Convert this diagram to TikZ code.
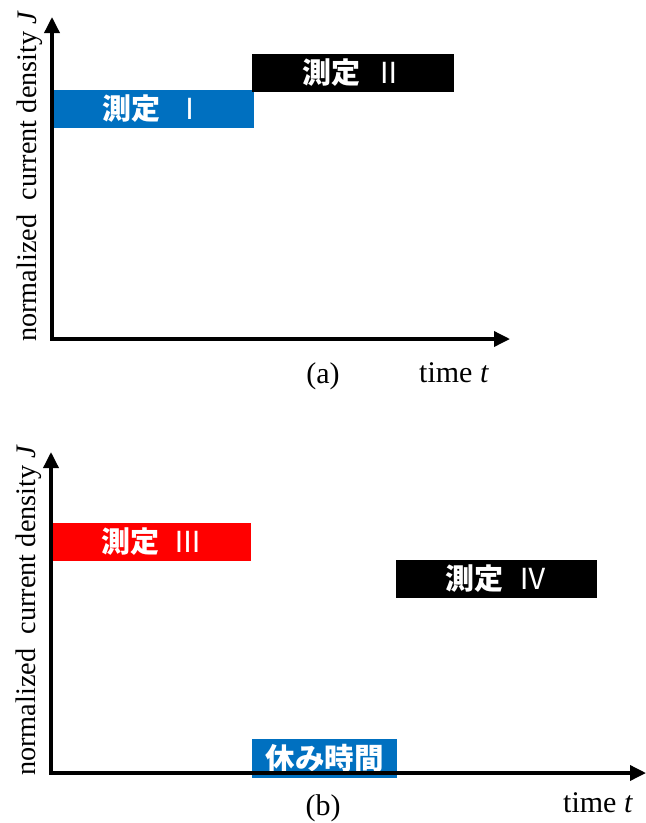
\documentclass[tikz,border=0pt]{standalone}
\usepackage{fontspec}
\setmainfont{Liberation Serif}
\newfontfamily\jp{Noto Sans CJK JP}
\usetikzlibrary{arrows.meta}
\definecolor{mblue}{HTML}{0070C0}
\definecolor{mred}{HTML}{FF0000}
\newcommand{\rn}[1]{\hspace{0.5em}{\mdseries #1}}
\begin{document}
\begin{tikzpicture}[x=1pt,y=-1pt,
  axis/.style={line width=3.5pt,-{Triangle[length=16pt,width=15pt]}},
  bar/.style={inner sep=0pt,outer sep=0pt,minimum height=38pt,text=white,font=\jp\bfseries\fontsize{29}{30}\selectfont},
  lab/.style={inner sep=0pt,font=\fontsize{30}{30}\selectfont},
  ylab/.style={inner sep=0pt,font=\fontsize{28.3}{30}\selectfont,rotate=90,anchor=base west}]
\useasboundingbox (0,0) rectangle (646,823);
% panel (a)
\node[bar,fill=mblue,minimum width=201pt,anchor=north west] (m1) at (53,90) {測定\rn{Ⅰ}};
\node[bar,fill=black,minimum width=202pt,anchor=north west] (m2) at (252,54) {測定\rn{Ⅱ}};
\coordinate (oa) at (52,339);
\coordinate (ya) at (52,17);
\coordinate (xa) at (510,339);
\draw[axis] ([yshift=1.75pt]oa) -- (ya);
\draw[axis] ([xshift=-1.75pt]oa) -- (xa);
\node[ylab] (ja) at (36,342) {normalized~ current density \textit{J}};
\node[lab,anchor=base] (ca) at (323,383) {(a)};
\node[lab,anchor=base west] (ta) at (419,382) {time~\textit{t}};
% panel (b)
\node[bar,fill=mred,minimum width=198pt,anchor=north west] (m3) at (53,523) {測定\rn{Ⅲ}};
\node[bar,fill=black,minimum width=201pt,anchor=north west] (m4) at (396,560) {測定\rn{Ⅳ}};
\node[bar,fill=mblue,minimum width=145pt,minimum height=39pt,anchor=north west,font=\jp\bfseries\fontsize{29.5}{30}\selectfont] (rest) at (252,739) {休み時間};
\coordinate (ob) at (51,773);
\coordinate (yb) at (51,452);
\coordinate (xb) at (646,773);
\draw[axis] ([yshift=1.75pt]ob) -- (yb);
\draw[axis] ([xshift=-1.75pt]ob) -- (xb);
\node[ylab] (jb) at (35,776) {normalized~ current density \textit{J}};
\node[lab,anchor=base] (cb) at (323,815) {(b)};
\node[lab,anchor=base west] (tb) at (563,812) {time~\textit{t}};
\end{tikzpicture}
\end{document}
